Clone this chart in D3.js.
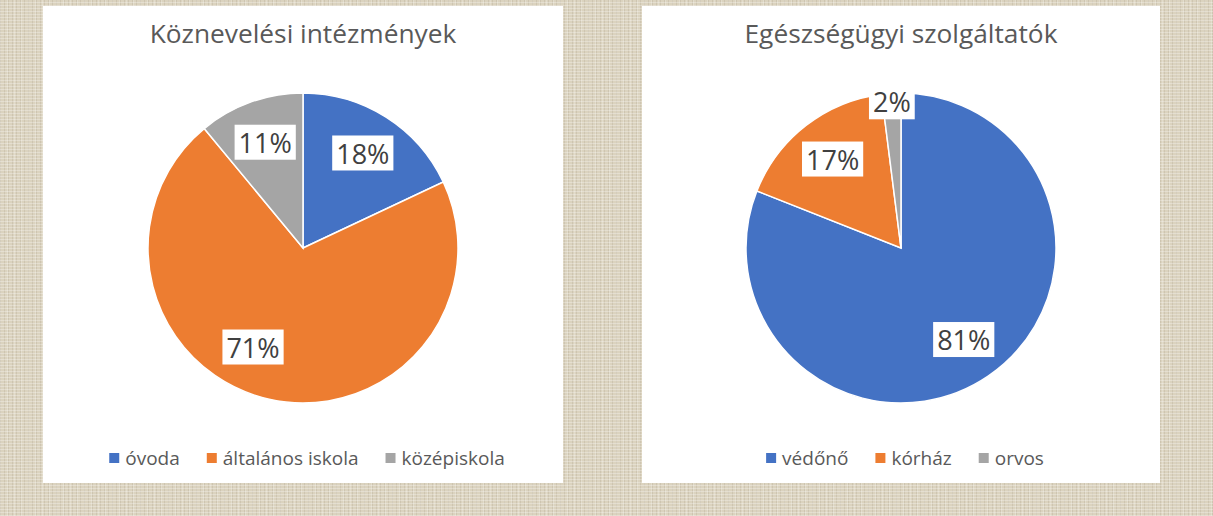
<!DOCTYPE html>
<html>
<head>
<meta charset="utf-8">
<script src="https://cdn.jsdelivr.net/npm/d3@7"></script>
<style>
  body {
    margin: 0;
    background-color: #dbd3bf;
    background-image:
      repeating-linear-gradient(0deg, rgba(255,255,255,0.28) 0 1px, transparent 1px 3px),
      repeating-linear-gradient(90deg, rgba(120,105,80,0.13) 0 1px, transparent 1px 4px),
      repeating-linear-gradient(90deg, rgba(255,255,255,0.2) 0 1px, transparent 1px 7px);
  }
  svg { display: block; }
  text { font-family: "Open Sans", "Noto Sans", sans-serif; }
</style>
</head>
<body>
<svg id="chart" width="1213" height="516"></svg>
<script>
// data
var leftTitle = "Köznevelési intézmények";
var leftCategories = ["óvoda", "általános iskola", "középiskola"];
var leftValues = [18, 71, 11];

var rightTitle = "Egészségügyi szolgáltatók";
var rightCategories = ["védőnő", "kórház", "orvos"];
var rightValues = [81, 17, 2];

var colors = ["#4472C4", "#ED7D31", "#A5A5A5"];

var svg = d3.select("#chart");

function drawPie(panel, title, categories, values, labelShift) {
    var g = svg.append("g")
        .attr("transform", "translate(" + panel.x + "," + panel.y + ")");

    g.append("rect")
        .attr("width", panel.w)
        .attr("height", panel.h)
        .attr("fill", "#fff");

    var cx = panel.w / 2, cy = 242, radius = 155;

    g.append("text")
        .attr("x", cx)
        .attr("y", 37)
        .attr("text-anchor", "middle")
        .attr("font-size", 26.3)
        .attr("fill", "#595959")
        .text(title);

    var color = d3.scaleOrdinal().domain(categories).range(colors);

    var data = categories.map(function (c, i) { return { cat: c, value: values[i] }; });
    var pie = d3.pie().sort(null).value(function (d) { return d.value; });
    var arcs = pie(data);

    var arc = d3.arc().innerRadius(0).outerRadius(radius);

    var pg = g.append("g").attr("transform", "translate(" + cx + "," + cy + ")");

    pg.selectAll("path")
        .data(arcs)
        .enter().append("path")
        .attr("d", arc)
        .attr("fill", function (d) { return color(d.data.cat); })
        .attr("stroke", "#fff")
        .attr("stroke-width", 1.5);

    // labels, best-fit style: inside, or near the rim when the slice is thin
    var lab = pg.selectAll(".lab")
        .data(arcs)
        .enter().append("g")
        .attr("class", "lab")
        .attr("transform", function (d, i) {
            var k = d.data.value < 5 ? 0.94 : 0.72;
            var shift = (labelShift[i] || 0) * Math.PI / 180;
            var a = d3.arc().innerRadius(radius * k).outerRadius(radius * k);
            var c = a.centroid({ startAngle: d.startAngle + shift, endAngle: d.endAngle + shift });
            return "translate(" + c[0] + "," + c[1] + ")";
        });

    lab.append("text")
        .attr("text-anchor", "middle")
        .attr("dy", "0.36em")
        .attr("font-size", 27)
        .attr("fill", "#404040")
        .text(function (d) { return d.data.value + "%"; });

    lab.each(function () {
        var t = d3.select(this).select("text");
        var b = t.node().getBBox();
        d3.select(this).insert("rect", "text")
            .attr("x", b.x - 4)
            .attr("y", b.y + 1)
            .attr("width", b.width + 8)
            .attr("height", b.height - 2)
            .attr("fill", "#fff");
    });

    // legend
    var leg = g.append("g");
    var x = 0;
    categories.forEach(function (c) {
        var it = leg.append("g").attr("transform", "translate(" + x + ",0)");
        it.append("rect")
            .attr("y", -5)
            .attr("width", 10)
            .attr("height", 10)
            .attr("fill", color(c));
        var t = it.append("text")
            .attr("x", 16)
            .attr("dy", "0.35em")
            .attr("font-size", 19)
            .attr("fill", "#595959")
            .text(c);
        x += 16 + t.node().getComputedTextLength() + 27;
    });
    var w = x - 27;
    leg.attr("transform", "translate(" + (cx - w / 2 + 4) + ",452)");
}

drawPie({ x: 43, y: 6, w: 520, h: 477 }, leftTitle, leftCategories, leftValues, [0, 14, 0]);
drawPie({ x: 642, y: 6, w: 518, h: 477 }, rightTitle, rightCategories, rightValues, [0, 0, 0]);
</script>
</body>
</html>
